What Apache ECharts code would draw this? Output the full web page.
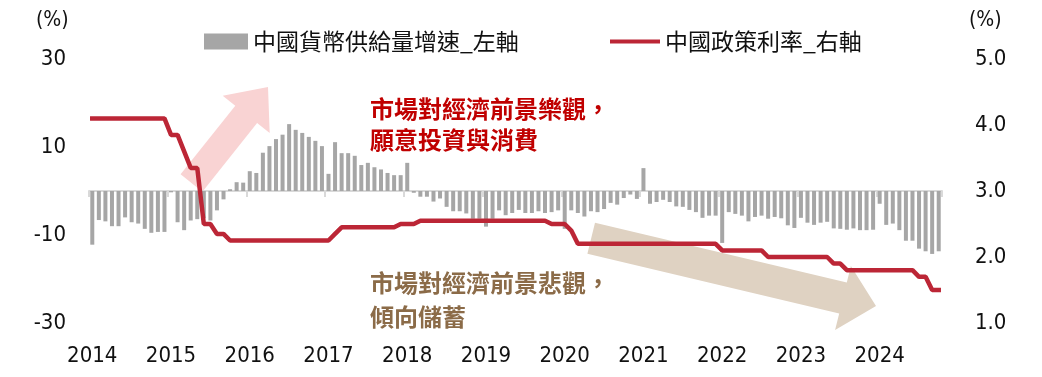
<!DOCTYPE html>
<html><head><meta charset="utf-8">
<script src="https://cdn.jsdelivr.net/npm/echarts@6/dist/echarts.min.js"></script>
<style>html,body{margin:0;padding:0;background:#fff}#c{width:1042px;height:377px}</style>
</head><body><div id="c"></div><script>
const yearLabels = ['2014','2015','2016','2017','2018','2019','2020','2021','2022','2023','2024'];
const seriesNames = ['中國貨幣供給量增速_左軸', '中國政策利率_右軸'];
const moneySupplyGrowth = [
-12.2,-6.6,-6.9,-8.0,-8.0,-6.0,-7.1,-7.4,-8.6,-9.5,-9.3,-9.3,
-0.3,-7.1,-8.9,-6.7,-6.4,-6.2,-6.7,-4.4,-1.9,0.4,2.0,1.9,
4.5,4.1,8.7,10.2,11.8,12.8,15.2,13.9,13.2,12.3,11.4,10.2,
3.9,11.1,8.6,8.6,8.0,5.9,6.4,5.4,4.9,4.1,3.6,3.6,
6.4,-0.4,-1.3,-1.3,-2.4,-1.7,-3.6,-4.6,-4.6,-5.1,-6.3,-6.3,
-8.1,-6.3,-4.4,-5.5,-5.0,-4.3,-5.0,-5.0,-4.6,-5.0,-4.8,-4.4,
-8.6,-4.4,-5.0,-5.8,-4.6,-4.8,-4.1,-2.7,-3.1,-1.6,-0.8,-1.8,
5.2,-2.9,-2.5,-2.0,-2.5,-3.5,-3.6,-4.3,-4.8,-6.1,-5.6,-5.6,
-11.8,-4.8,-5.2,-5.6,-6.9,-5.9,-5.6,-6.3,-5.9,-6.2,-7.8,-8.4,
-6.1,-7.2,-7.7,-7.2,-7.0,-8.5,-8.6,-8.8,-8.5,-8.9,-8.9,-8.8,
-2.9,-7.7,-7.4,-8.9,-11.3,-11.3,-13.1,-13.7,-14.3,-13.7
];
const policyRate = [
4.1,4.1,4.1,4.1,4.1,4.1,4.1,4.1,4.1,4.1,4.1,4.1,
3.85,3.85,3.6,3.35,3.35,2.5,2.5,2.35,2.35,2.25,2.25,2.25,
2.25,2.25,2.25,2.25,2.25,2.25,2.25,2.25,2.25,2.25,2.25,2.25,
2.25,2.35,2.45,2.45,2.45,2.45,2.45,2.45,2.45,2.45,2.45,2.5,
2.5,2.5,2.55,2.55,2.55,2.55,2.55,2.55,2.55,2.55,2.55,2.55,
2.55,2.55,2.55,2.55,2.55,2.55,2.55,2.55,2.55,2.55,2.5,2.5,
2.5,2.4,2.2,2.2,2.2,2.2,2.2,2.2,2.2,2.2,2.2,2.2,
2.2,2.2,2.2,2.2,2.2,2.2,2.2,2.2,2.2,2.2,2.2,2.2,
2.1,2.1,2.1,2.1,2.1,2.1,2.1,2.0,2.0,2.0,2.0,2.0,
2.0,2.0,2.0,2.0,2.0,1.9,1.9,1.8,1.8,1.8,1.8,1.8,
1.8,1.8,1.8,1.8,1.8,1.8,1.7,1.7,1.5,1.5
];
const annotationUp = '市場對經濟前景樂觀，\n願意投資與消費';
const annotationDown = '市場對經濟前景悲觀，\n傾向儲蓄';

const months = [];
yearLabels.forEach(y => { for (let m = 1; m <= 12; m++) if (months.length < moneySupplyGrowth.length) months.push(y + '-' + (m < 10 ? '0' + m : m)); });

const NUM_FONT = "'Liberation Sans Narrow','DejaVu Sans Condensed','Noto Sans CJK TC',sans-serif";
const CJK_FONT = "'Noto Sans CJK TC',sans-serif";
const isYearStart = i => i % 12 === 0;

const chart = echarts.init(document.getElementById('c'));
chart.setOption({
  animation: false,
  backgroundColor: '#fff',
  grid: { left: 89, right: 100, top: 59, bottom: 54, containLabel: false },
  legend: [
    { data: [seriesNames[0]], left: 199, top: 25, icon: 'rect', itemWidth: 44, itemHeight: 16,
      textStyle: { fontFamily: CJK_FONT, fontSize: 23, color: '#111' } },
    { data: [seriesNames[1]], left: 605, top: 25, icon: 'rect', itemWidth: 50, itemHeight: 4,
      textStyle: { fontFamily: CJK_FONT, fontSize: 23, color: '#111' } }
  ],
  xAxis: [
    { type: 'category', data: months, position: 'bottom',
      axisLine: { show: false }, axisTick: { show: false },
      axisLabel: { interval: isYearStart, formatter: v => v.slice(0, 4), margin: 22,
        fontFamily: NUM_FONT, fontSize: 22, color: '#111' } },
    { type: 'category', data: months, position: 'top',
      axisLine: { show: true, onZero: true, onZeroAxisIndex: 0, lineStyle: { color: '#D9D9D9', width: 2 } },
      axisTick: { show: true, inside: true, interval: isYearStart, length: 6, lineStyle: { color: '#D9D9D9', width: 2 } },
      axisLabel: { show: false }, splitLine: { show: false } }
  ],
  yAxis: [
    { type: 'value', min: -30, max: 30, interval: 20, position: 'left',
      axisLine: { show: false }, axisTick: { show: false }, splitLine: { show: false },
      axisLabel: { margin: 23, fontFamily: NUM_FONT, fontSize: 22, color: '#111' } },
    { type: 'value', min: 1, max: 5, interval: 1, position: 'right',
      axisLine: { show: false }, axisTick: { show: false }, splitLine: { show: false },
      axisLabel: { margin: 33, formatter: v => v.toFixed(1), fontFamily: NUM_FONT, fontSize: 22, color: '#111' } }
  ],
  graphic: { elements: [
    { type: 'polygon', z: 0, shape: { points: [[180.6,174.3],[235.3,105.7],[222.7,95.7],[268,87],[269.7,133.1],[257.1,123.1],[202.4,191.7]] },
      style: { fill: '#F9D3D3' } },
    { type: 'polygon', z: 0, shape: { points: [[595,222.7],[846.8,282.4],[850.9,265.9],[876,306],[835.1,329.9],[839.2,313.4],[587.4,253.7]] },
      style: { fill: '#DFD2C2' } },
    { type: 'text', left: 36, top: 10, z: 5, style: { text: '(%)', font: "21px " + NUM_FONT, fill: '#111' } },
    { type: 'text', left: 969, top: 10, z: 5, style: { text: '(%)', font: "21px " + NUM_FONT, fill: '#111' } },
    { type: 'text', left: 370, top: 93, z: 5, style: { text: annotationUp, font: "bold 24px " + CJK_FONT, fill: '#C00000', lineHeight: 31 } },
    { type: 'text', left: 370, top: 266, z: 5, style: { text: annotationDown, font: "bold 24px " + CJK_FONT, fill: '#8B6B48', lineHeight: 34 } }
  ] },
  series: [
    { name: seriesNames[0], type: 'bar', xAxisIndex: 0, yAxisIndex: 0, data: moneySupplyGrowth,
      barWidth: 4, itemStyle: { color: '#A6A6A6' }, z: 2 },
    { name: seriesNames[1], type: 'line', xAxisIndex: 0, yAxisIndex: 1, data: policyRate,
      showSymbol: false, symbol: 'none', lineStyle: { color: '#BC2636', width: 4.5, cap: 'square' }, itemStyle: { color: '#BC2636' }, z: 3 }
  ]
});
</script></body></html>
